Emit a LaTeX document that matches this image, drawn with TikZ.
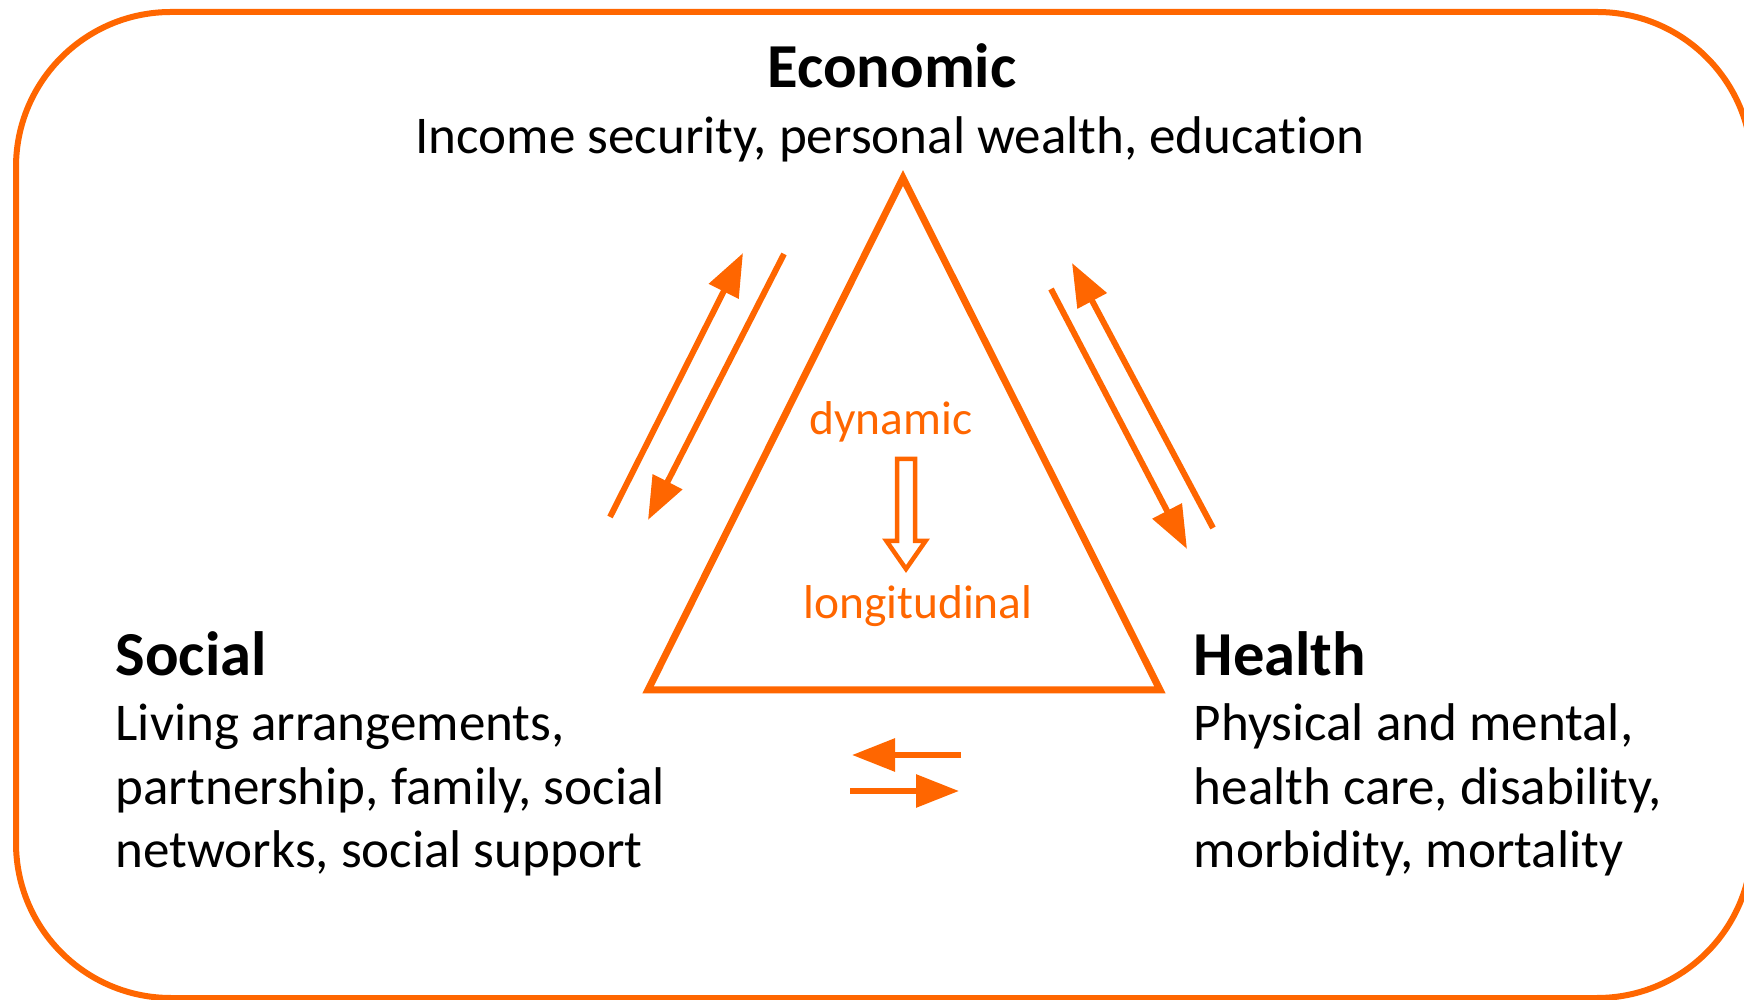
\documentclass[tikz,border=0pt]{standalone}
\usepackage{fontspec}
\setmainfont{Carlito}[Ligatures=NoCommon]
\usetikzlibrary{arrows.meta,positioning}
\definecolor{domainorange}{RGB}{255,102,0}
\tikzset{
  heading/.style={font=\fontsize{17.8pt}{21pt}\selectfont\bfseries, inner sep=0pt},
  body/.style={font=\fontsize{15.1pt}{18.2pt}\selectfont, inner sep=0pt, align=left},
  keyword/.style={font=\fontsize{13.5pt}{16pt}\selectfont, text=domainorange, inner sep=0pt},
  link/.style={line width=0.06cm, color=domainorange, -{Triangle[length=4.3mm,width=3.2mm]}}
}
\begin{document}
\begin{tikzpicture}
  \useasboundingbox (0,0) rectangle (17.44,-10);
  \clip (0,0) rectangle (17.44,-10);
  \draw [line width=0.06cm, color=domainorange, rounded corners=1.55cm] (0.16,-0.12) rectangle (17.52,-9.98);

  \draw [line width=0.07cm, color=domainorange, miter limit=10] (9.03,-1.78) -- (6.48,-6.90) -- (11.60,-6.90) -- cycle;

  \node [heading, anchor=base] (econ) at (8.92,-0.88) {Economic};
  \node [body, anchor=base] (econtext) at (8.90,-1.535) {Income security, personal wealth, education};

  % base of a block = baseline of its last line
  \node [heading, anchor=base west] (social) at (1.15,-6.76) {Social};
  \node [body, anchor=base west] (socialtext) at (1.15,-8.68) {Living arrangements,\\partnership, family, social\\networks, social support};

  \node [heading, anchor=base west] (health) at (11.93,-6.76) {Health};
  \node [body, anchor=base west] (healthtext) at (11.93,-8.68) {Physical and mental,\\health care, disability,\\morbidity, mortality};

  \node [keyword, anchor=base] (dyn) at (8.91,-4.35) {dynamic};
  \node [keyword, anchor=base] (long) at (9.18,-6.19) {longitudinal};

  % hollow arrow
  \draw [line width=0.045cm, color=domainorange, miter limit=10] (8.97,-4.59) -- (9.15,-4.59) -- (9.15,-5.41) -- (9.255,-5.41) -- (9.06,-5.69) -- (8.865,-5.41) -- (8.97,-5.41) -- cycle;

  % economic <-> social
  \coordinate (es1) at (6.10,-5.17);
  \coordinate (es2) at (7.43,-2.53);
  \coordinate (se1) at (7.84,-2.54);
  \coordinate (se2) at (6.48,-5.20);
  \draw [link] (es1) -- (es2);
  \draw [link] (se1) -- (se2);

  % economic <-> health
  \coordinate (he1) at (12.13,-5.28);
  \coordinate (he2) at (10.72,-2.63);
  \coordinate (eh1) at (10.51,-2.89);
  \coordinate (eh2) at (11.87,-5.49);
  \draw [link] (he1) -- (he2);
  \draw [link] (eh1) -- (eh2);

  % social <-> health
  \coordinate (hs1) at (9.61,-7.55);
  \coordinate (hs2) at (8.52,-7.55);
  \coordinate (sh1) at (8.50,-7.91);
  \coordinate (sh2) at (9.59,-7.91);
  \draw [link] (hs1) -- (hs2);
  \draw [link] (sh1) -- (sh2);
\end{tikzpicture}
\end{document}
